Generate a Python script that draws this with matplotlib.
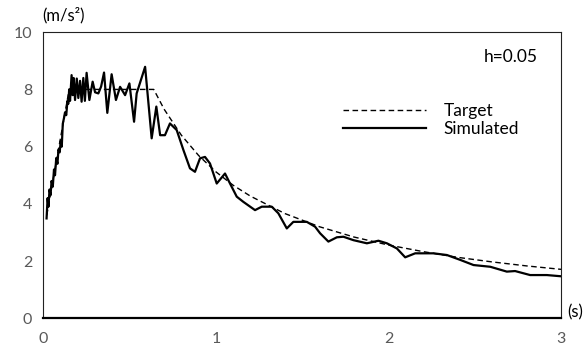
import matplotlib
matplotlib.use("Agg")
import matplotlib.pyplot as plt

# Target spectrum
target_t = [0.02, 0.15, 0.64, 0.70, 0.80, 0.90, 1.00, 1.10, 1.20, 1.40, 1.60,
            1.80, 2.00, 2.20, 2.40, 2.60, 2.80, 3.00]
target_sa = [3.6, 8.0, 8.0, 7.31, 6.40, 5.69, 5.12, 4.65, 4.27, 3.66, 3.20,
             2.84, 2.56, 2.33, 2.13, 1.97, 1.83, 1.71]

# Simulated spectrum
sim_t = [0.019, 0.025, 0.030, 0.036, 0.042, 0.048, 0.055, 0.062, 0.068, 0.075,
         0.082, 0.088, 0.095, 0.101, 0.107, 0.113, 0.120, 0.126, 0.133, 0.140,
         0.145, 0.150, 0.155, 0.164, 0.170, 0.176, 0.184, 0.194, 0.203, 0.213,
         0.222, 0.232, 0.241, 0.251, 0.267, 0.286, 0.300, 0.319, 0.335, 0.352,
         0.371, 0.396, 0.421, 0.445, 0.474, 0.499, 0.526, 0.541, 0.590, 0.628,
         0.655, 0.677, 0.705, 0.734, 0.773, 0.812, 0.850, 0.879, 0.908, 0.937,
         0.966, 1.005, 1.053, 1.082, 1.121, 1.159, 1.227, 1.266, 1.324, 1.362,
         1.411, 1.449, 1.527, 1.575, 1.604, 1.652, 1.701, 1.739, 1.797, 1.875,
         1.942, 1.991, 2.049, 2.097, 2.155, 2.261, 2.339, 2.416, 2.493, 2.590,
         2.686, 2.734, 2.821, 2.918, 2.995]
sim_sa = [3.49, 4.20, 3.90, 4.50, 4.30, 4.80, 4.60, 5.20, 5.00, 5.60,
          5.40, 5.90, 5.80, 6.20, 6.00, 6.80, 7.00, 7.20, 7.10, 7.60,
          7.50, 8.00, 7.60, 8.50, 7.80, 8.40, 7.63, 8.38, 7.70, 8.30,
          7.57, 8.40, 7.60, 8.58, 7.63, 8.27, 7.90, 7.86, 8.10, 8.59,
          7.18, 8.53, 7.63, 8.09, 7.80, 8.21, 6.87, 7.86, 8.79, 6.29,
          7.40, 6.40, 6.40, 6.81, 6.58, 5.88, 5.24, 5.12, 5.59, 5.64,
          5.41, 4.71, 5.06, 4.71, 4.25, 4.07, 3.78, 3.90, 3.90, 3.67,
          3.14, 3.37, 3.37, 3.20, 2.97, 2.68, 2.83, 2.85, 2.73, 2.62,
          2.71, 2.62, 2.44, 2.13, 2.27, 2.27, 2.21, 2.04, 1.86, 1.80,
          1.63, 1.65, 1.51, 1.51, 1.47]

x_ticks = [0, 1, 2, 3]
y_ticks = [0, 2, 4, 6, 8, 10]

plt.rcParams['font.family'] = ['Lato', 'DejaVu Sans']

fig = plt.figure(figsize=(5.85, 3.54), dpi=100)
ax = fig.add_axes([0.074, 0.101, 0.885, 0.808])

ax.plot(target_t, target_sa, color='black', lw=1.0, dashes=(4, 2.5), label='Target')
ax.plot(sim_t, sim_sa, color='black', lw=1.6, label='Simulated')

ax.set_xlim(0, 3)
ax.set_ylim(0, 10)
ax.set_xticks(x_ticks)
ax.set_yticks(y_ticks)
ax.tick_params(length=0, labelsize=11.5, colors='#595959')
ax.tick_params(axis='x', pad=10)
ax.tick_params(axis='y', pad=8)

for side in ['top', 'right', 'left']:
    ax.spines[side].set_linewidth(0.8)
    ax.spines[side].set_color('#222222')
ax.spines['bottom'].set_linewidth(1.6)
ax.spines['bottom'].set_color('black')

fig.text(0.108, 0.958, '(m/s²)', fontsize=12, ha='center', va='center')
fig.text(0.983, 0.118, '(s)', fontsize=12, ha='center', va='center')
ax.text(0.955, 0.912, 'h=0.05', transform=ax.transAxes, fontsize=12.5,
        ha='right', va='center')

ax.legend(loc='center left', bbox_to_anchor=(0.579, 0.693), frameon=False,
          fontsize=12.5, handlelength=4.8, handletextpad=1.0, labelspacing=0.15,
          borderpad=0, borderaxespad=0)

fig.savefig('out.png', dpi=100)
